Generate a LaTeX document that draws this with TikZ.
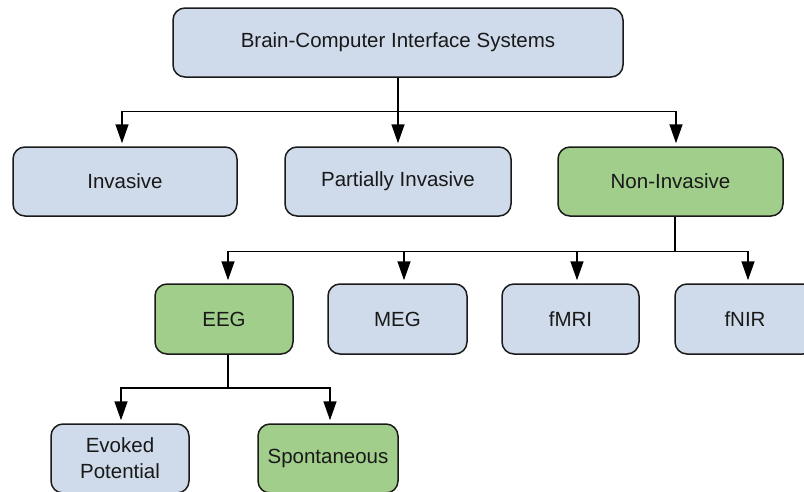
\documentclass[tikz,border=0pt]{standalone}
\usepackage{fontspec}
\setmainfont{Liberation Sans}
\usetikzlibrary{arrows.meta}
\definecolor{boxblue}{HTML}{CFDBEA}
\definecolor{boxgreen}{HTML}{A1CE8B}
\definecolor{edge}{HTML}{1A1A1A}
\tikzset{
  box/.style={draw=edge, line width=1.5pt, rounded corners=12pt, fill=boxblue,
    inner sep=0pt, align=center, text=black!90,
    font=\fontsize{20.5}{26}\selectfont},
  chosen/.style={box, fill=boxgreen},
  link/.style={draw=black, line width=1.5pt},
  arr/.style={link, -{Triangle[length=19pt,width=13pt]}, shorten >=3pt},
}
\begin{document}
\begin{tikzpicture}[x=1pt, y=-1pt]
  \useasboundingbox (0,0) rectangle (804,491);

  % root
  \node[box, minimum width=450pt, minimum height=69pt] (bci) at (398,42.5)
    {Brain-Computer Interface Systems};

  % categories
  \node[box,    minimum width=224pt, minimum height=69pt] (inv)  at (125,181.5) {Invasive};
  \node[box,    minimum width=226pt, minimum height=69pt] (part) at (398,181.5) {Partially Invasive};
  \node[chosen, minimum width=225pt, minimum height=69pt] (non)  at (670.5,181.5) {Non-Invasive};

  % non-invasive modalities
  \node[chosen, minimum width=138pt, minimum height=70pt] (eeg)  at (224,319) {EEG};
  \node[box,    minimum width=139pt, minimum height=70pt] (meg)  at (397.5,319) {MEG};
  \node[box,    minimum width=137pt, minimum height=70pt] (fmri) at (570.5,319) {fMRI};
  \node[box,    minimum width=140pt, minimum height=70pt] (fnir) at (745,319) {fNIR};

  % EEG signal types
  \node[box,    minimum width=138pt, minimum height=69pt] (evo) at (120,458.5) {Evoked\\Potential};
  \node[chosen, minimum width=140pt, minimum height=69pt] (spo) at (328,458.5) {Spontaneous};

  % junction points of the trees
  \coordinate (j1) at (398,111.5);
  \coordinate (j2) at (675,251.5);
  \coordinate (j3) at (228,388);

  \draw[link] (bci.south) -- (j1);
  \draw[arr] (j1) -| ([xshift=-3pt]inv.north);
  \draw[arr] (j1) -- (part.north);
  \draw[arr] (j1) -| ([xshift=5.5pt]non.north);

  \draw[link] ([xshift=4.5pt]non.south) -- (j2);
  \draw[arr] (j2) -| ([xshift=4pt]eeg.north);
  \draw[arr] (j2) -| ([xshift=6.5pt]meg.north);
  \draw[arr] (j2) -| ([xshift=6.5pt]fmri.north);
  \draw[arr] (j2) -| ([xshift=3pt]fnir.north);

  \draw[link] ([xshift=4pt]eeg.south) -- (j3);
  \draw[arr] (j3) -| ([xshift=1pt]evo.north);
  \draw[arr] (j3) -| ([xshift=2pt]spo.north);
\end{tikzpicture}
\end{document}
